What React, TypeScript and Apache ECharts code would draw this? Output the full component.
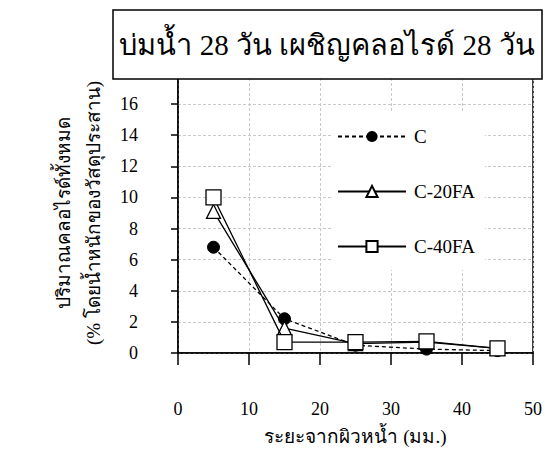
import React, { useEffect, useRef } from "react";
import * as echarts from "echarts";

const distances = [5, 15, 25, 35, 45];
const seriesNames = ["C", "C-20FA", "C-40FA"];
const valuesC = [6.8, 2.2, 0.5, 0.25, 0.15];
const valuesC20 = [9.1, 1.6, 0.6, 0.7, 0.3];
const valuesC40 = [10.0, 0.7, 0.7, 0.75, 0.3];
const xTicks = [0, 10, 20, 30, 40, 50];
const yTicks = [0, 2, 4, 6, 8, 10, 12, 14, 16];
const titleText = "บ่มน้ำ 28 วัน เผชิญคลอไรด์ 28 วัน";
const xName = "ระยะจากผิวหน้ำ (มม.)";
const yName1 = "ปริมาณคลอไรด์ทั้งหมด";
const yName2 = "(% โดยน้ำหนักของวัสดุประสาน)";

const FONT = "'Liberation Serif', 'Times New Roman', serif";

export default function App() {
  const ref = useRef<HTMLDivElement>(null);
  useEffect(() => {
    document.body.style.margin = "0";
    const chart = echarts.init(ref.current!, undefined, { renderer: "svg" });
    const pair = (vals: number[]) => distances.map((d, i) => [d, vals[i]]);
    chart.setOption({
      animation: false,
      backgroundColor: "#fff",
      textStyle: { fontFamily: FONT, color: "#000" },
      grid: {
        left: 178,
        right: 10,
        top: 73,
        bottom: 104,
        show: true,
        borderColor: "#000",
        borderWidth: 1.5,
      },
      xAxis: {
        type: "value",
        min: 0,
        max: 50,
        interval: 10,
        name: xName,
        nameLocation: "middle",
        nameGap: 74,
        nameTextStyle: { fontSize: 19, color: "#000", fontFamily: FONT },
        axisLine: { onZero: false, lineStyle: { color: "#000", width: 1.5 } },
        axisTick: { show: true, length: 12, lineStyle: { color: "#000", width: 1.5 } },
        axisLabel: {
          margin: 47,
          fontSize: 18,
          color: "#000",
          fontFamily: FONT,
          formatter: (v: number) => (xTicks.includes(v) ? String(v) : ""),
        },
        splitLine: { show: true, lineStyle: { color: "#c8c8c8", type: [3, 2], width: 1 } },
      },
      yAxis: {
        type: "value",
        min: 0,
        max: 18,
        interval: 2,
        name: yName1 + "\n" + yName2,
        nameLocation: "middle",
        nameGap: 70,
        nameTextStyle: { fontSize: 19, color: "#000", fontFamily: FONT, lineHeight: 30 },
        axisLine: { lineStyle: { color: "#000", width: 1.5 } },
        axisTick: { show: true, length: 7, lineStyle: { color: "#000", width: 1.5 } },
        axisLabel: {
          margin: 40,
          fontSize: 18,
          color: "#000",
          fontFamily: FONT,
          formatter: (v: number) => (yTicks.includes(v) ? String(v) : ""),
        },
        splitLine: { show: true, lineStyle: { color: "#c8c8c8", type: [3, 2], width: 1 } },
      },
      legend: {
        orient: "vertical",
        left: 333,
        top: 113,
        padding: [14, 10, 14, 4],
        backgroundColor: "#fff",
        itemWidth: 68,
        itemHeight: 14,
        itemGap: 36,
        data: seriesNames,
        textStyle: { fontSize: 19, color: "#000", fontFamily: FONT, padding: [0, 0, 0, 3] },
      },
      series: [
        {
          name: seriesNames[0],
          type: "line",
          data: pair(valuesC),
          symbol: "circle",
          symbolSize: 12,
          lineStyle: { color: "#000", width: 1.3, type: [4, 3] },
          itemStyle: { color: "#000", borderColor: "#000" },
          z: 3,
        },
        {
          name: seriesNames[1],
          type: "line",
          data: pair(valuesC20),
          symbol: "triangle",
          symbolSize: 14,
          lineStyle: { color: "#000", width: 1.3 },
          itemStyle: { color: "#fff", borderColor: "#000", borderWidth: 1.3 },
          z: 4,
        },
        {
          name: seriesNames[2],
          type: "line",
          data: pair(valuesC40),
          symbol: "rect",
          symbolSize: 15,
          lineStyle: { color: "#000", width: 1.3 },
          itemStyle: { color: "#fff", borderColor: "#000", borderWidth: 1.3 },
          z: 5,
        },
      ],
      graphic: [
        {
          type: "rect",
          z: 100,
          shape: { x: 113, y: 10, width: 429, height: 69 },
          style: { fill: "#fff", stroke: "#000", lineWidth: 1.5 },
        },
        {
          type: "text",
          z: 101,
          x: 327,
          y: 45,
          style: {
            text: titleText,
            fontSize: 29,
            fontFamily: FONT,
            fill: "#000",
            align: "center",
            verticalAlign: "middle",
          },
        },
      ],
    });
    return () => chart.dispose();
  }, []);
  return <div ref={ref} style={{ width: 545, height: 457 }} />;
}
